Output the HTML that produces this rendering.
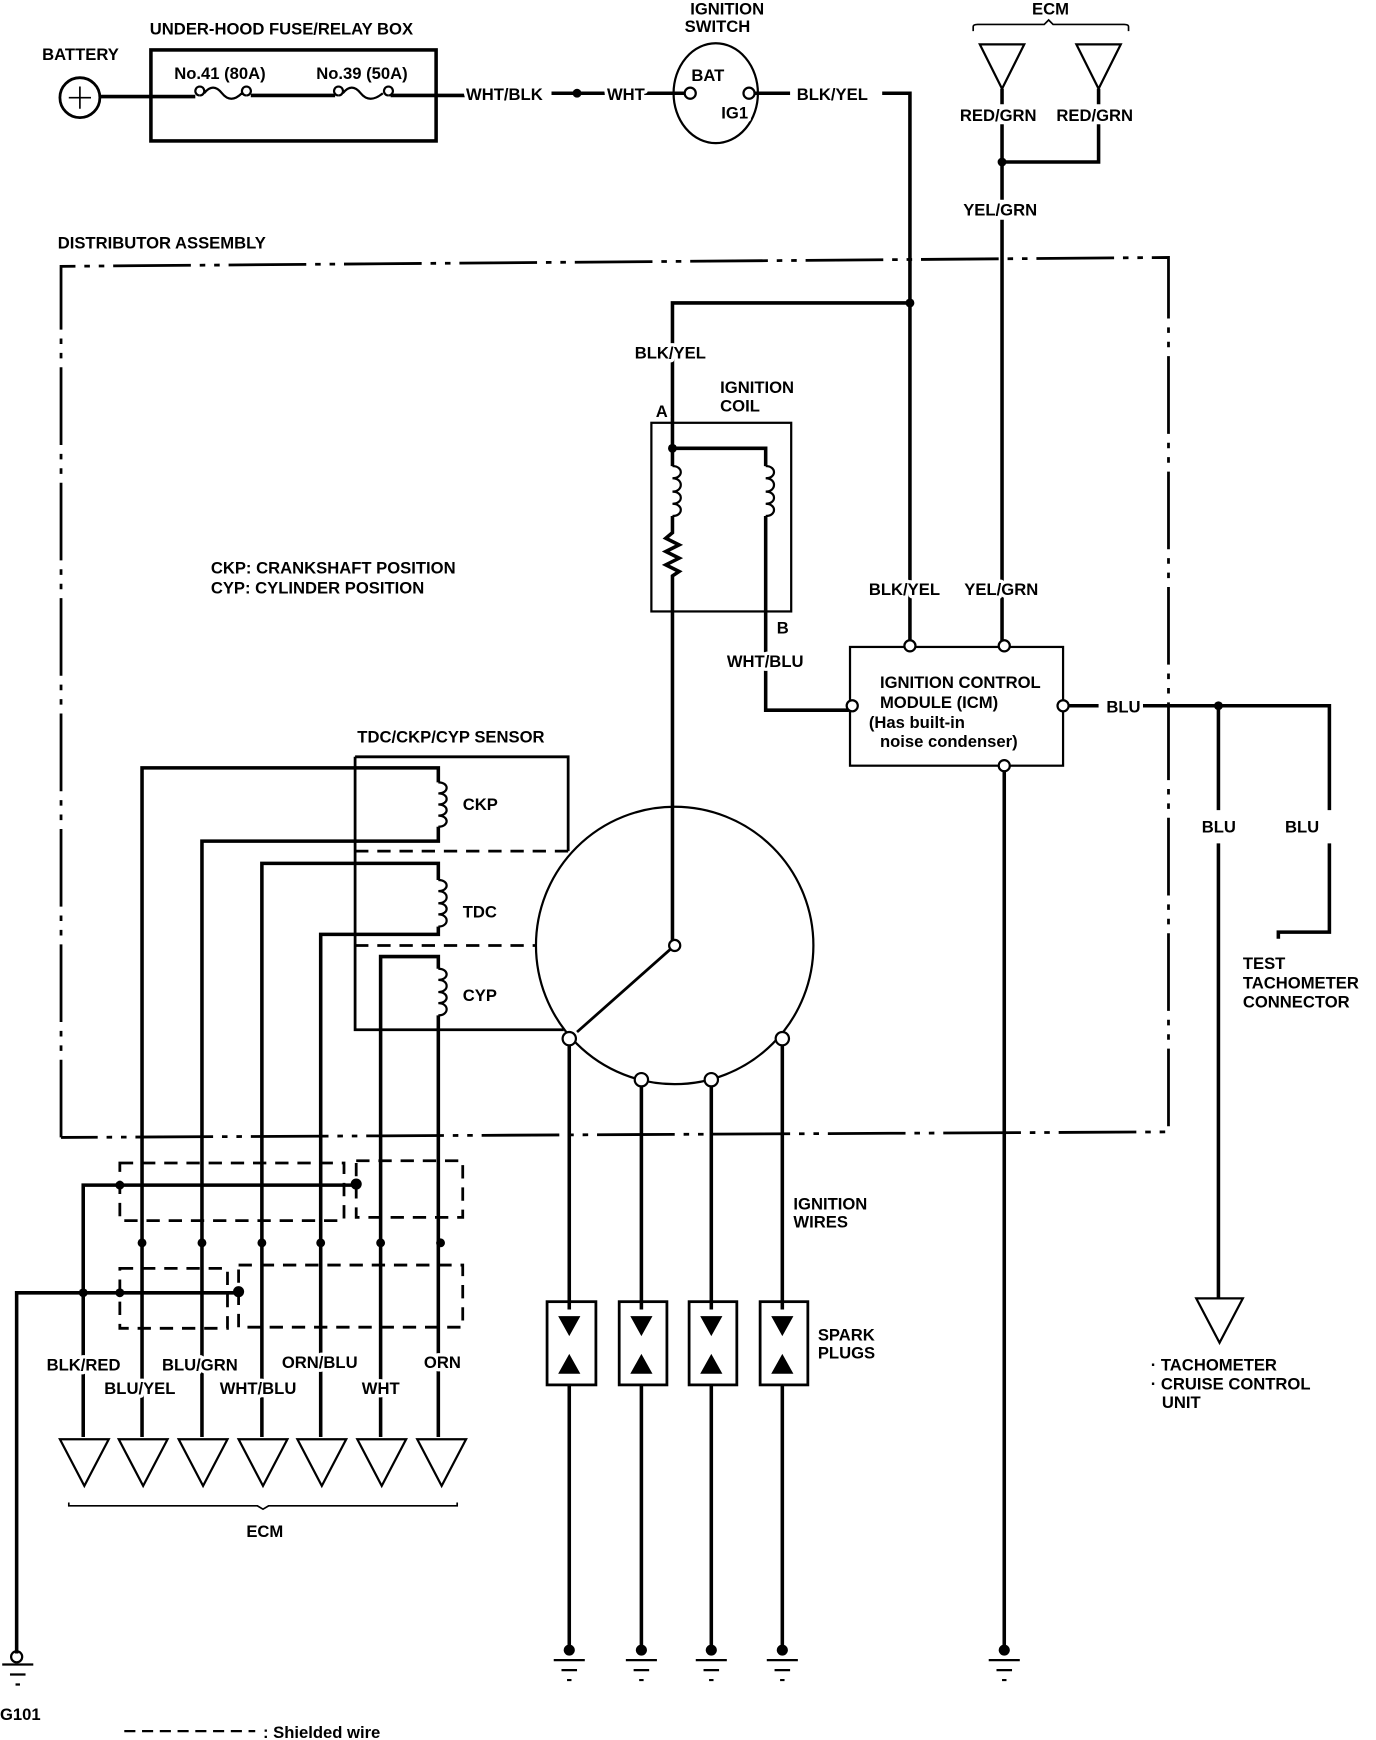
<!DOCTYPE html>
<html><head><meta charset="utf-8"><style>
html,body{margin:0;padding:0;background:#fff}
svg{display:block}
text{font-family:"Liberation Sans Narrow","Liberation Sans",sans-serif;font-weight:bold;font-size:15px;fill:#000;stroke:#fff;stroke-width:6px;paint-order:stroke;stroke-linejoin:round}
</style></head><body>
<svg width="1376" height="1740" viewBox="0 0 1240 1568" preserveAspectRatio="none" xmlns="http://www.w3.org/2000/svg">
<g fill="none" stroke="#000" stroke-width="3.2">
<circle cx="72" cy="88" r="18" stroke-width="2.5"/>
<path d="M62 88h20M72 78v20" stroke-width="1.5"/>
<path d="M90 87H176M226 86H302M352 86H420"/>
<rect x="136" y="45" width="257" height="82"/>
<path d="M180 86a4 4 0 1 1 0.1 0M222 86a4 4 0 1 1 0.1 0M184 84q8-10 16 0t18 0" stroke-width="2"/>
<path d="M305 86a4 4 0 1 1 0.1 0M350 86a4 4 0 1 1 0.1 0M309 84q8-10 16 0t20 0" stroke-width="2"/>
<path d="M497 84H545M580 84H617M680 84H712M795 84H820V582M820 273H606V404"/>
<ellipse cx="645" cy="84" rx="38" ry="45" stroke-width="2"/>
<path d="M877 28v-4q0-2 4-2h60l4-4 4 4h64q4 0 4 2v4" stroke-width="1.5"/>
<path d="M883 40h40l-20 40zM970 40h40l-20 40z" stroke-width="2"/>
<path d="M903 80v14M990 80v14M990 112v34H903M903 112v68M903 198v384"/>
<path d="M55 1025V240L1053 232V1020L55 1025" stroke-width="2.5" stroke-dasharray="70 8 5 8 5 8"/>
<rect x="587" y="381" width="126" height="170" stroke-width="2"/>
<path d="M606 404H690V420M606 404V420M606 465V480l-6 5 12 6-12 6 12 6-12 6 12 6-6 4V852M690 465V640H765"/>
<path d="M606 420c10 0 10 11 0 11c10 0 10 12 0 12c10 0 10 11 0 11c10 0 10 11 0 11M690 420c10 0 10 11 0 11c10 0 10 12 0 12c10 0 10 11 0 11c10 0 10 11 0 11" stroke-width="2"/>
<circle cx="608" cy="852" r="125" stroke-width="2"/>
<path d="M608 852L520 930" stroke-width="2.5"/>
<path d="M513 941V1180M578 978V1180M641 978V1180M705 941V1180M513 1248V1485M578 1248V1485M641 1248V1485M705 1248V1485"/>
<g stroke-width="2.5"><rect x="493" y="1173" width="44" height="75"/><rect x="558" y="1173" width="43" height="75"/><rect x="621" y="1173" width="43" height="75"/><rect x="685" y="1173" width="43" height="75"/></g>
<rect x="766" y="583" width="192" height="107" stroke-width="2"/>
<path d="M963 636H990M1030 636H1198V730M1098 636V730M1098 760V1170M1198 760V840H1152V846"/>
<path d="M1078 1170h42l-21 40z" stroke-width="2"/>
<path d="M905 695V1485"/>
<path d="M320 682H512V767M320 682V928H508" stroke-width="2.5"/>
<path d="M320 767H512M320 852H483" stroke-width="2.5" stroke-dasharray="12 8"/>
<path d="M128 1295V692H395V705M395 745V758H182V1295M236 1295V778H395V793M395 835V842H289V1295M343 1295V862H395V873M395 915V1295"/>
<path d="M395 705c10 0 10 10 0 10c10 0 10 10 0 10c10 0 10 10 0 10c10 0 10 10 0 10M395 793c10 0 10 10 0 10c10 0 10 11 0 11c10 0 10 10 0 10c10 0 10 11 0 11M395 873c10 0 10 10 0 10c10 0 10 11 0 11c10 0 10 10 0 10c10 0 10 11 0 11" stroke-width="2"/>
<g stroke-width="2.5" stroke-dasharray="12 8"><rect x="108" y="1048" width="202" height="52"/><rect x="321" y="1046" width="96" height="51"/><rect x="108" y="1143" width="97" height="54"/><rect x="215" y="1140" width="202" height="56"/></g>
<path d="M75 1295V1068H321M15 1490V1165H215"/>
<g stroke-width="2"><path d="M54 1297h44l-22 42zM107 1297h44l-22 42zM161 1297h44l-22 42zM215 1297h44l-22 42zM268 1297h44l-22 42zM322 1297h44l-22 42zM376 1297h44l-22 42z"/></g>
<path d="M62 1354v3h170l5 3 5-3h170v-3" stroke-width="1.5"/>
<g stroke-width="2"><path d="M499 1496h28M506 1505h14M511 1514h4M564 1496h28M571 1505h14M576 1514h4M627 1496h28M634 1505h14M639 1514h4M691 1496h28M698 1505h14M703 1514h4M891 1496h28M898 1505h14M903 1514h4M2 1500h28M9 1509h14M14 1518h4"/></g>
<circle cx="15" cy="1493" r="5" stroke-width="2"/>
<path d="M112 1560H230" stroke-width="2" stroke-dasharray="10 6"/>
</g>
<g fill="#fff" stroke="#000" stroke-width="2">
<circle cx="622" cy="84" r="5"/><circle cx="675" cy="84" r="5"/>
<circle cx="820" cy="582" r="5"/><circle cx="905" cy="582" r="5"/><circle cx="768" cy="636" r="5"/><circle cx="958" cy="636" r="5"/><circle cx="905" cy="690" r="5"/>
<circle cx="608" cy="852" r="5"/><circle cx="513" cy="936" r="6"/><circle cx="578" cy="973" r="6"/><circle cx="641" cy="973" r="6"/><circle cx="705" cy="936" r="6"/>
</g>
<g fill="#000">
<circle cx="520" cy="84" r="4"/><circle cx="820" cy="273" r="4"/><circle cx="903" cy="146" r="4"/><circle cx="606" cy="404" r="4"/><circle cx="1098" cy="636" r="4"/>
<circle cx="108" cy="1068" r="4"/><circle cx="321" cy="1067" r="5"/><circle cx="75" cy="1165" r="4"/><circle cx="108" cy="1165" r="4"/><circle cx="215" cy="1164" r="5"/>
<circle cx="128" cy="1120" r="4"/><circle cx="182" cy="1120" r="4"/><circle cx="236" cy="1120" r="4"/><circle cx="289" cy="1120" r="4"/><circle cx="343" cy="1120" r="4"/><circle cx="397" cy="1120" r="4"/>
<circle cx="513" cy="1487" r="5"/><circle cx="578" cy="1487" r="5"/><circle cx="641" cy="1487" r="5"/><circle cx="705" cy="1487" r="5"/><circle cx="905" cy="1487" r="5"/>
<path d="M503 1186h20l-10 18zM568 1186h20l-10 18zM631 1186h20l-10 18zM695 1186h20l-10 18zM503 1238h20l-10-18zM568 1238h20l-10-18zM631 1238h20l-10-18zM695 1238h20l-10-18z"/>
</g>
<g>
<text x="38" y="54">BATTERY</text>
<text x="135" y="31">UNDER-HOOD FUSE/RELAY BOX</text>
<text x="157" y="71">No.41 (80A)</text>
<text x="285" y="71">No.39 (50A)</text>
<text x="420" y="90">WHT/BLK</text>
<text x="547" y="90">WHT</text>
<text x="622" y="13">IGNITION</text><text x="617" y="29">SWITCH</text>
<text x="623" y="73">BAT</text><text x="650" y="107">IG1</text>
<text x="718" y="90">BLK/YEL</text>
<text x="930" y="13">ECM</text>
<text x="865" y="109">RED/GRN</text><text x="952" y="109">RED/GRN</text>
<text x="868" y="194">YEL/GRN</text>
<text x="52" y="224">DISTRIBUTOR ASSEMBLY</text>
<text x="572" y="323">BLK/YEL</text>
<text x="649" y="354">IGNITION</text><text x="649" y="371">COIL</text>
<text x="591" y="376">A</text>
<text x="700" y="571">B</text>
<text x="655" y="601">WHT/BLU</text>
<text x="190" y="517">CKP: CRANKSHAFT POSITION</text>
<text x="190" y="535">CYP: CYLINDER POSITION</text>
<text x="783" y="536">BLK/YEL</text><text x="869" y="536">YEL/GRN</text>
<text x="793" y="620" font-size="14">IGNITION CONTROL</text>
<text x="793" y="638" font-size="14">MODULE (ICM)</text>
<text x="783" y="656" font-size="14">(Has built-in</text>
<text x="793" y="673" font-size="14">noise condenser)</text>
<text x="997" y="642">BLU</text>
<text x="1083" y="750">BLU</text><text x="1158" y="750">BLU</text>
<text x="1120" y="873">TEST</text><text x="1120" y="891">TACHOMETER</text><text x="1120" y="908">CONNECTOR</text>
<text x="1037" y="1235">· TACHOMETER</text><text x="1037" y="1252">· CRUISE CONTROL</text><text x="1047" y="1269">UNIT</text>
<text x="322" y="669">TDC/CKP/CYP SENSOR</text>
<text x="417" y="730">CKP</text><text x="417" y="827">TDC</text><text x="417" y="902">CYP</text>
<text x="715" y="1090">IGNITION</text><text x="715" y="1106">WIRES</text>
<text x="737" y="1208">SPARK</text><text x="737" y="1224">PLUGS</text>
<text x="42" y="1235">BLK/RED</text><text x="146" y="1235">BLU/GRN</text><text x="254" y="1233">ORN/BLU</text><text x="382" y="1233">ORN</text>
<text x="94" y="1256">BLU/YEL</text><text x="198" y="1256">WHT/BLU</text><text x="326" y="1256">WHT</text>
<text x="222" y="1385">ECM</text>
<text x="0" y="1550">G101</text>
<text x="237" y="1566">: Shielded wire</text>
</g>
</svg>
</body></html>
